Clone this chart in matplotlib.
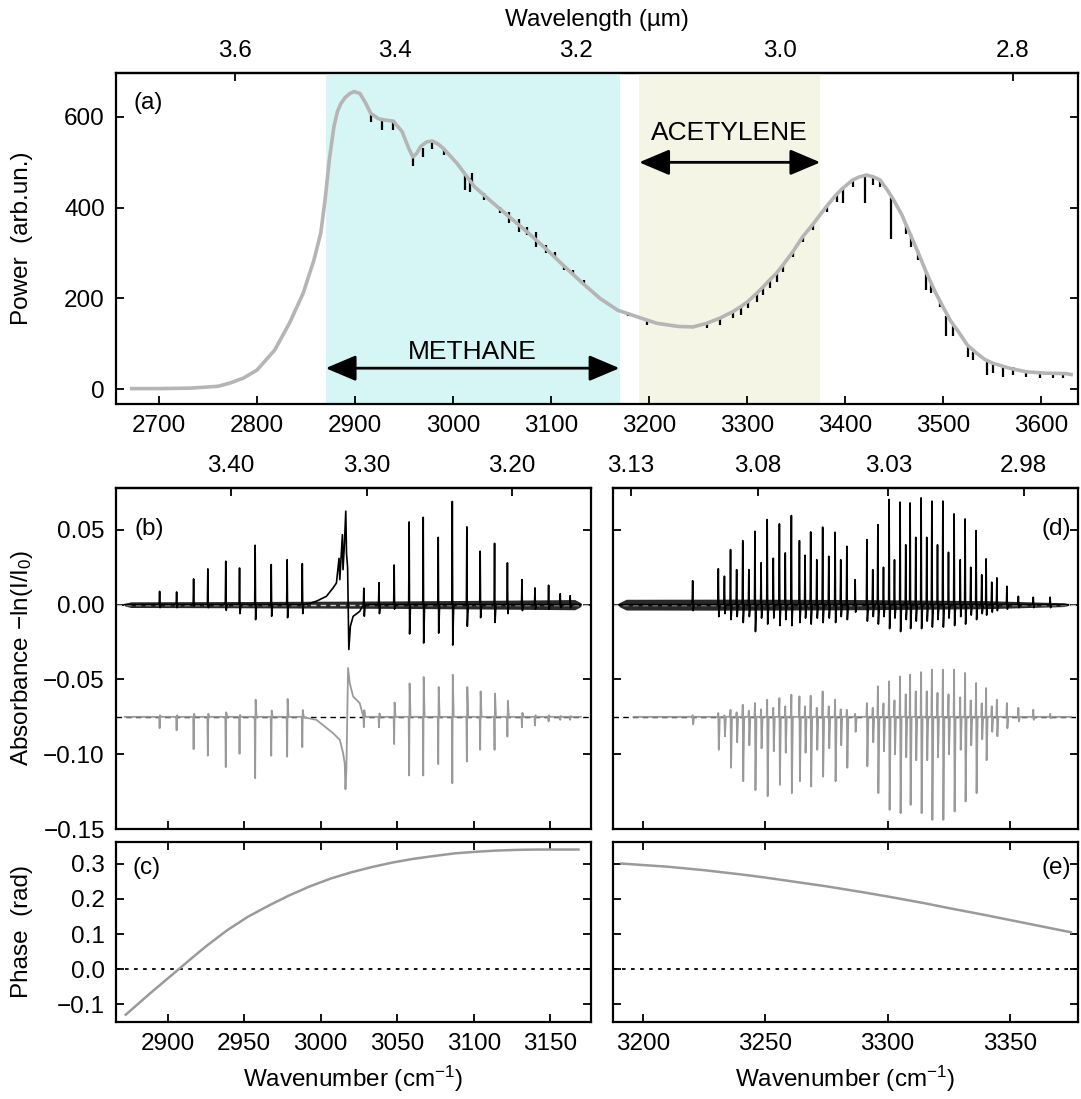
import numpy as np
import matplotlib
matplotlib.use("Agg")
import matplotlib.pyplot as plt
from matplotlib.ticker import FuncFormatter

plt.rcParams['font.family'] = ['Liberation Sans', 'DejaVu Sans']
plt.rcParams['mathtext.default'] = 'regular'
plt.rcParams['font.size'] = 17.5
plt.rcParams['axes.linewidth'] = 1.6

# ---------------- data ----------------
# (a) laser power spectrum envelope
power_wn = [2672, 2700, 2732, 2760, 2772, 2786, 2800, 2818, 2833, 2847, 2858, 2865,
            2869.4, 2874, 2878.5, 2882, 2885.7, 2890, 2894.9, 2899, 2905, 2911, 2916,
            2924, 2931, 2939, 2948, 2955, 2959, 2963, 2967, 2973, 2979, 2985, 2990,
            3004, 3022, 3041, 3059, 3077, 3095, 3113, 3132, 3150, 3168, 3187, 3208,
            3230, 3245, 3259, 3272, 3286, 3294, 3301, 3310, 3317, 3323, 3330, 3337,
            3347, 3357, 3368, 3381, 3391, 3398, 3408, 3415, 3422, 3429, 3436, 3443,
            3449, 3458, 3466, 3475, 3483, 3492, 3500, 3508, 3517, 3525, 3534, 3543,
            3551, 3568, 3585, 3605, 3626, 3631]
power_val = [1, 1, 2, 6, 13, 24, 42, 86, 145, 211, 284, 344,
             417, 510, 579, 612, 630, 643, 652, 656, 652, 630, 608,
             596, 593, 591, 568, 530, 512, 520, 535, 545, 547, 540, 531,
             498, 446, 410, 377, 344, 309, 272, 234, 200, 174, 160, 145,
             138, 137, 145, 156, 171, 182, 193, 211, 226, 240, 255, 274,
             303, 336, 365, 402, 428, 443, 461, 468, 472, 468, 461, 440,
             420, 385, 345, 300, 258, 215, 182, 150, 123, 97, 80, 65,
             57, 46, 38, 35, 34, 32]

# absorption dips in the measured power (position, top, bottom)
dip_wn = [2916.7, 2927.6, 2938.7, 2958.7, 2969.6, 2978.6, 2990.4, 3012.2, 3016.9,
          3019.4, 3031.6, 3048.0, 3057.0, 3066.9, 3076.0, 3085.1, 3095.3, 3104.5,
          3113.6, 3122.6, 3133.6, 3178.9, 3197.6, 3258.8, 3272.4, 3286.0, 3294.5,
          3301.4, 3309.9, 3316.7, 3323.5, 3330.3, 3337.1, 3347.3, 3357.5, 3367.7,
          3381.3, 3391.5, 3398.3, 3408.5, 3420.4, 3428.9, 3435.7, 3446.9, 3462.9,
          3468.0, 3474.8, 3483.3, 3488.4, 3496.9, 3503.7, 3510.5, 3525.8, 3530.9,
          3544.6, 3551.4, 3561.6, 3571.8, 3585.4, 3599.0, 3612.6, 3622.8]
dip_top = [608, 593, 591, 512, 531, 546, 531, 472, 465,
           476, 432, 402, 391, 376, 358, 347, 318, 303,
           273, 262, 240, 171, 152, 145, 156, 171, 182,
           193, 211, 226, 240, 255, 274, 303, 336, 365,
           402, 428, 443, 461, 472, 468, 461, 421, 365,
           343, 307, 259, 237, 196, 160, 138, 93, 82,
           64, 60, 53, 49, 42, 38, 38, 38]
dip_bot = [590, 571, 571, 492, 512, 529, 516, 439, 435,
           454, 417, 388, 366, 347, 340, 314, 299, 288,
           262, 251, 231, 160, 141, 134, 141, 156, 163,
           178, 193, 207, 222, 237, 259, 292, 325, 351,
           391, 413, 410, 446, 410, 450, 446, 332, 343,
           314, 285, 218, 211, 182, 116, 116, 71, 64,
           31, 35, 27, 31, 27, 24, 24, 24]

methane_band = (2870, 3170)
acetylene_band = (3190, 3375)

wl_top_a = [3.6, 3.4, 3.2, 3.0, 2.8]
wl_top_b = [3.40, 3.30, 3.20]
wl_top_d = [3.13, 3.08, 3.03, 2.98]

# (b) methane: line positions, measured (peak, trough), model (peak, trough)
ch4_wn = [2894.8, 2905.9, 2917.0, 2926.3, 2938.0, 2947.0, 2957.2, 2967.7, 2978.1,
          2988.0, 2998.6, 3028.2, 3038.1, 3048.0, 3057.8, 3067.0, 3076.8, 3086.0,
          3095.5, 3104.2, 3113.6, 3122.0, 3131.5, 3140.0, 3148.9, 3156.5, 3163.0]
ch4_meas_hi = [0.0089, 0.0085, 0.0172, 0.0239, 0.029, 0.0245, 0.0397, 0.0268, 0.030,
               0.0274, 0.0145, 0.011, 0.0147, 0.0265, 0.0553, 0.0584, 0.045, 0.069,
               0.052, 0.0357, 0.041, 0.0279, 0.0167, 0.0112, 0.013, 0.0073, 0.006]
ch4_meas_lo = [-0.002, -0.002, -0.001, -0.002, -0.0038, -0.006, -0.010, -0.0077, -0.0087,
               -0.006, -0.001, -0.0077, -0.006, -0.003, -0.0196, -0.0256, -0.019, -0.027,
               -0.0145, -0.0087, -0.0119, -0.006, -0.004, -0.003, -0.003, -0.002, -0.002]
ch4_fit_hi = [-0.074, -0.074, -0.073, -0.073, -0.072, -0.0737, -0.0636, -0.0708, -0.0631,
              -0.0705, -0.074, -0.0706, -0.0728, -0.0654, -0.0527, -0.0484, -0.0551, -0.0469,
              -0.0551, -0.058, -0.0595, -0.0643, -0.0723, -0.074, -0.074, -0.0745, -0.0745]
ch4_fit_lo = [-0.0826, -0.084, -0.0966, -0.101, -0.1086, -0.0997, -0.116, -0.101, -0.1017,
              -0.0952, -0.084, -0.0819, -0.082, -0.0932, -0.1142, -0.1142, -0.1066, -0.1194,
              -0.1049, -0.097, -0.097, -0.0882, -0.082, -0.0808, -0.078, -0.077, -0.077]

# methane Q branch region traced directly
q_meas_wn = [2990, 2997.2, 3003.8, 3008.1, 3010.3, 3012.0, 3012.5, 3014.2, 3014.6, 3015.5,
             3016.4, 3016.9, 3017.6, 3018.4, 3019.4, 3021.2, 3025.5]
q_meas_val = [0.0, 0.0023, 0.0056, 0.0112, 0.0145, 0.031, 0.0167, 0.0468, 0.0234, 0.040,
              0.0625, 0.034, 0.025, -0.030, -0.0145, -0.0078, -0.0045]
q_fit_wn = [2990, 2997.2, 3008.1, 3012.5, 3014.6, 3015.7, 3016.2, 3016.8, 3017.9, 3019.0,
            3021.2, 3025.5]
q_fit_val = [-0.0755, -0.077, -0.0859, -0.0904, -0.099, -0.106, -0.1234, -0.110, -0.0424,
             -0.0524, -0.0614, -0.0658]

noise_b_wn = [2872, 2876, 2950, 3050, 3120, 3166, 3170]
noise_b_amp = [0.0009, 0.0019, 0.0021, 0.0025, 0.003, 0.0034, 0.0012]

# (d) acetylene
c2h2_wn = [3220.2, 3230.7, 3233.2, 3235.7, 3238.2, 3240.7, 3243.2, 3245.7, 3248.2,
           3250.7, 3253.2, 3255.7, 3258.1, 3260.6, 3263.9, 3266.2, 3268.5, 3271.0,
           3273.4, 3275.9, 3278.5, 3280.8, 3283.3, 3286.7, 3291.5, 3293.9, 3296.0,
           3298.3, 3300.6, 3302.8, 3305.1, 3307.4, 3309.2, 3311.5, 3313.7, 3316.0,
           3318.1, 3320.4, 3322.6, 3324.9, 3327.2, 3329.7, 3331.7, 3334.0, 3336.2,
           3338.5, 3340.3, 3342.6, 3344.7, 3348.8, 3353.5, 3359.6, 3366.5]
c2h2_meas_hi = [0.016, 0.024, 0.019, 0.0368, 0.0234, 0.0428, 0.0234, 0.049, 0.028,
                0.0569, 0.031, 0.054, 0.0346, 0.0596, 0.0428, 0.033, 0.0486, 0.030,
                0.0518, 0.0323, 0.0484, 0.030, 0.039, 0.0167, 0.0435, 0.0234, 0.0535,
                0.025, 0.0703, 0.030, 0.0685, 0.040, 0.068, 0.045, 0.0714, 0.045,
                0.0692, 0.040, 0.0692, 0.035, 0.0607, 0.030, 0.0573, 0.025, 0.0495,
                0.020, 0.0306, 0.015, 0.0179, 0.0123, 0.0056, 0.005, 0.005]
c2h2_meas_lo = [-0.004, -0.008, -0.006, -0.010, -0.008, -0.012, -0.008, -0.018, -0.009,
                -0.013, -0.009, -0.014, -0.010, -0.014, -0.012, -0.009, -0.013, -0.009,
                -0.012, -0.009, -0.012, -0.008, -0.010, -0.005, -0.011, -0.008, -0.013,
                -0.008, -0.016, -0.009, -0.018, -0.010, -0.016, -0.011, -0.016, -0.011,
                -0.015, -0.010, -0.015, -0.009, -0.014, -0.008, -0.013, -0.007, -0.010,
                -0.006, -0.007, -0.005, -0.004, -0.003, -0.002, -0.002, -0.002]
c2h2_fit_hi = [-0.074, -0.0725, -0.074, -0.0703, -0.072, -0.0669, -0.071, -0.0658, -0.070,
               -0.0636, -0.069, -0.0625, -0.068, -0.0602, -0.0613, -0.068, -0.0609, -0.069,
               -0.058, -0.068, -0.0636, -0.070, -0.0703, -0.073, -0.0658, -0.069, -0.0546,
               -0.066, -0.0513, -0.064, -0.048, -0.060, -0.0469, -0.058, -0.0451, -0.058,
               -0.0435, -0.059, -0.0435, -0.060, -0.0435, -0.062, -0.0457, -0.064, -0.0524,
               -0.066, -0.0558, -0.068, -0.0636, -0.0658, -0.069, -0.0703, -0.073]
c2h2_fit_lo = [-0.080, -0.097, -0.088, -0.109, -0.092, -0.118, -0.094, -0.124, -0.096,
               -0.128, -0.098, -0.1205, -0.099, -0.126, -0.118, -0.099, -0.1216, -0.097,
               -0.115, -0.096, -0.118, -0.094, -0.109, -0.085, -0.108, -0.092, -0.126,
               -0.098, -0.1372, -0.100, -0.1394, -0.102, -0.1339, -0.104, -0.1394, -0.104,
               -0.1439, -0.102, -0.1439, -0.100, -0.1383, -0.097, -0.1316, -0.094, -0.126,
               -0.090, -0.104, -0.085, -0.088, -0.0826, -0.078, -0.077, -0.076]

noise_d_wn = [3190, 3193, 3240, 3290, 3340, 3360, 3372, 3374]
noise_d_amp = [0.0012, 0.0036, 0.0037, 0.0034, 0.0027, 0.0018, 0.0013, 0.0005]

fit_offset = -0.075

# (c), (e) phase
phase_c_wn = [2872.7, 2890, 2907.4, 2916, 2925.4, 2939, 2952.4, 2966, 2979.4, 2993,
              3006.4, 3020, 3033.4, 3047, 3060.4, 3074, 3087.4, 3101, 3114.4, 3128,
              3141.4, 3155, 3168.4]
phase_c_val = [-0.130, -0.064, 0.0, 0.032, 0.066, 0.111, 0.149, 0.181, 0.210, 0.236,
               0.258, 0.276, 0.291, 0.304, 0.3144, 0.3225, 0.330, 0.3345, 0.338, 0.340,
               0.341, 0.341, 0.341]
phase_e_wn = [3191, 3210, 3225, 3240, 3250, 3265, 3275, 3290, 3300, 3315, 3325, 3340,
              3350, 3365, 3375]
phase_e_val = [0.301, 0.292, 0.282, 0.270, 0.261, 0.246, 0.236, 0.219, 0.207, 0.188,
               0.174, 0.154, 0.140, 0.119, 0.105]


# ---------------- helpers ----------------
def stick_trace(pos, first, second, base, w, start, stop, extra_x=(), extra_y=(), skip=None):
    xs, ys = [start, stop], [base, base]
    for p, a, b in zip(pos, first, second):
        if skip is not None and skip[0] < p < skip[1]:
            continue
        xs += [p - w, p, p + w, p + 3 * w]
        ys += [base, a, b, base]
    xs = np.r_[xs, extra_x]
    ys = np.r_[ys, extra_y]
    order = np.argsort(xs, kind='stable')
    return xs[order], ys[order]


def inv(x):
    x = np.asarray(x, dtype=float)
    with np.errstate(divide='ignore'):
        return 1e4 / x


minus = FuncFormatter(lambda v, p: ('%.2f' % v).replace('-', '\u2212'))
minus1 = FuncFormatter(lambda v, p: ('%.1f' % v).replace('-', '\u2212'))

W, H = 1081, 1099


def box(l, t, r, b):
    return [l / W, 1 - b / H, (r - l) / W, (b - t) / H]


def style(ax):
    ax.tick_params(direction='in', length=6, width=1.3, top=True, right=True, pad=8)


fig = plt.figure(figsize=(W / 100, H / 100), dpi=100)

# ---------------- (a) ----------------
ax_a = fig.add_axes(box(116, 73, 1078, 404))
ax_a.axvspan(*methane_band, color='#d6f5f5', lw=0)
ax_a.axvspan(*acetylene_band, color='#f5f5e6', lw=0)
ax_a.plot(power_wn, power_val, color='k', lw=1.3)
ax_a.vlines(dip_wn, dip_bot, dip_top, color='k', lw=1.6)
ax_a.plot(power_wn, power_val, color='#b5b5b5', lw=2.6)
ax_a.set_xlim(2656, 3638)
ax_a.set_ylim(-33, 697)
ax_a.set_xticks(np.arange(2700, 3601, 100))
ax_a.set_yticks([0, 200, 400, 600])
style(ax_a)
ax_a.tick_params(top=False)
sec_a = ax_a.secondary_xaxis('top', functions=(inv, inv))
sec_a.set_xticks(wl_top_a)
sec_a.xaxis.set_major_formatter(minus1)
sec_a.tick_params(direction='in', length=6, width=1.3, pad=8)
sec_a.set_xlabel('Wavelength (\u00b5m)', labelpad=10)

arrow = dict(arrowstyle='<|-|>,head_length=0.85,head_width=0.36',
             color='k', lw=2, mutation_scale=22, shrinkA=0, shrinkB=0)
ax_a.annotate('', xy=(methane_band[1], 46), xytext=(methane_band[0], 46), arrowprops=arrow)
ax_a.text(np.mean(methane_band), 82, 'METHANE', ha='center', va='center', fontsize=19)
ax_a.annotate('', xy=(acetylene_band[1], 500), xytext=(acetylene_band[0], 500), arrowprops=arrow)
ax_a.text(np.mean(acetylene_band), 565, 'ACETYLENE', ha='center', va='center', fontsize=19)
ax_a.text(0.018, 0.91, '(a)', transform=ax_a.transAxes, va='center')

# ---------------- (b) ----------------
ax_b = fig.add_axes(box(116, 488, 591, 829))
ax_b.axhline(0, color='#c8c8c8', lw=1, ls=(0, (4, 3)))
ax_b.axhline(fit_offset, color='k', lw=1, ls=(0, (4, 3)))
ax_b.fill_between(noise_b_wn, -np.array(noise_b_amp), noise_b_amp, color='#111111', lw=0, alpha=0.9)
bx, by = stick_trace(ch4_wn, ch4_meas_hi, ch4_meas_lo, 0.0, 0.3, 2872, 3170,
                     q_meas_wn, q_meas_val, skip=(2989, 3026))
ax_b.plot(bx, by, color='k', lw=1.2)
gx, gy = stick_trace(ch4_wn, ch4_fit_lo, ch4_fit_hi, fit_offset, 0.3, 2872, 3170,
                     q_fit_wn, q_fit_val, skip=(2989, 3026))
ax_b.plot(gx, gy, color='#9a9a9a', lw=1.3)
ax_b.set_xlim(2866.3, 3176.6)
ax_b.set_ylim(-0.15, 0.078)
ax_b.set_xticks(np.arange(2900, 3151, 50))
ax_b.set_yticks([-0.15, -0.10, -0.05, 0.0, 0.05])
ax_b.yaxis.set_major_formatter(minus)
style(ax_b)
ax_b.tick_params(top=False, labelbottom=False)
sec_b = ax_b.secondary_xaxis('top', functions=(inv, inv))
sec_b.set_xticks(wl_top_b)
sec_b.xaxis.set_major_formatter(minus)
sec_b.tick_params(direction='in', length=6, width=1.3, pad=8)
ax_b.text(0.04, 0.88, '(b)', transform=ax_b.transAxes, va='center')

# ---------------- (c) ----------------
ax_c = fig.add_axes(box(116, 842, 591, 1022))
ax_c.axhline(0, color='k', lw=1.3, ls=(0, (2, 3)))
ax_c.plot(phase_c_wn, phase_c_val, color='#9a9a9a', lw=1.8)
ax_c.set_xlim(2866.3, 3176.6)
ax_c.set_ylim(-0.151, 0.3625)
ax_c.set_xticks(np.arange(2900, 3151, 50))
ax_c.set_yticks([-0.1, 0.0, 0.1, 0.2, 0.3])
ax_c.yaxis.set_major_formatter(minus1)
style(ax_c)
ax_c.set_xlabel('Wavenumber (cm$^{-1}$)', labelpad=6)
ax_c.text(0.035, 0.855, '(c)', transform=ax_c.transAxes, va='center')

# ---------------- (d) ----------------
ax_d = fig.add_axes(box(613, 488, 1078, 829))
ax_d.axhline(0, color='#c8c8c8', lw=1, ls=(0, (4, 3)))
ax_d.axhline(fit_offset, color='k', lw=1, ls=(0, (4, 3)))
ax_d.fill_between(noise_d_wn, -np.array(noise_d_amp), noise_d_amp, color='#111111', lw=0, alpha=0.9)
dx, dy = stick_trace(c2h2_wn, c2h2_meas_hi, c2h2_meas_lo, 0.0, 0.2, 3190, 3374)
ax_d.plot(dx, dy, color='k', lw=1.2)
ex, ey = stick_trace(c2h2_wn, c2h2_fit_hi, c2h2_fit_lo, fit_offset, 0.2, 3196, 3375)
ax_d.plot(ex, ey, color='#9a9a9a', lw=1.3)
ax_d.set_xlim(3187.6, 3377.9)
ax_d.set_ylim(-0.15, 0.078)
ax_d.set_xticks(np.arange(3200, 3351, 50))
ax_d.set_yticks([-0.15, -0.10, -0.05, 0.0, 0.05])
style(ax_d)
ax_d.tick_params(top=False, labelbottom=False, labelleft=False)
sec_d = ax_d.secondary_xaxis('top', functions=(inv, inv))
sec_d.set_xticks(wl_top_d)
sec_d.xaxis.set_major_formatter(minus)
sec_d.tick_params(direction='in', length=6, width=1.3, pad=8)
ax_d.text(0.985, 0.88, '(d)', transform=ax_d.transAxes, va='center', ha='right')

# ---------------- (e) ----------------
ax_e = fig.add_axes(box(613, 842, 1078, 1022))
ax_e.axhline(0, color='k', lw=1.3, ls=(0, (2, 3)))
ax_e.plot(phase_e_wn, phase_e_val, color='#9a9a9a', lw=1.8)
ax_e.set_xlim(3187.6, 3377.9)
ax_e.set_ylim(-0.151, 0.3625)
ax_e.set_xticks(np.arange(3200, 3351, 50))
ax_e.set_yticks([-0.1, 0.0, 0.1, 0.2, 0.3])
style(ax_e)
ax_e.tick_params(labelleft=False)
ax_e.set_xlabel('Wavenumber (cm$^{-1}$)', labelpad=6)
ax_e.text(0.985, 0.855, '(e)', transform=ax_e.transAxes, va='center', ha='right')

# y labels
fig.text(22 / W, 1 - 238 / H, 'Power  (arb.un.)', rotation=90, ha='center', va='center')
fig.text(22 / W, 1 - 658 / H, 'Absorbance \u2212ln(I/I$_0$)', rotation=90, ha='center', va='center')
fig.text(22 / W, 1 - 932 / H, 'Phase  (rad)', rotation=90, ha='center', va='center')

fig.savefig('out.png', dpi=100)
